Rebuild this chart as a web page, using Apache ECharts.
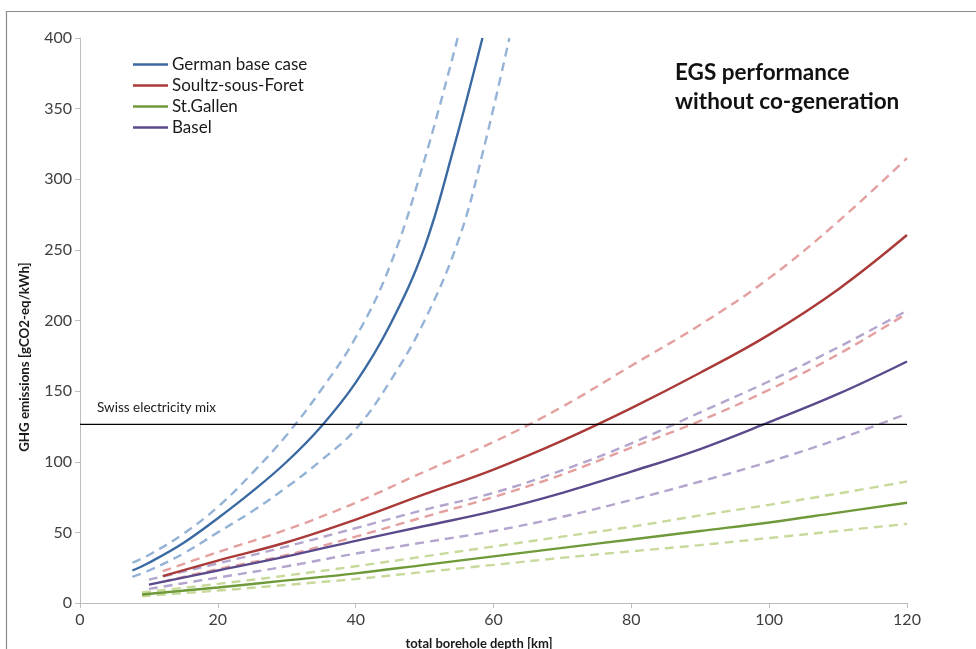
<!DOCTYPE html>
<html>
<head>
<meta charset="utf-8">
<title>EGS performance without co-generation</title>
<script src="https://cdn.jsdelivr.net/npm/echarts@6/dist/echarts.min.js"></script>
<style>
  html, body { margin: 0; padding: 0; background: #ffffff; }
  #chart { width: 976px; height: 649px; }
</style>
</head>
<body>
<div id="chart"></div>
<script>
// Axis ticks
const xTicks = [0, 20, 40, 60, 80, 100, 120];
const yTicks = [0, 50, 100, 150, 200, 250, 300, 350, 400];

// Reference level: Swiss electricity mix [gCO2-eq/kWh]
const swissMix = 126.5;

// German base case: depth [km] and emissions (central, upper, lower)
const germanX   = [7.6, 10, 15, 20, 25, 30, 35, 40, 45, 50, 54, 58.4];
const germanMid = [23, 28.5, 42.5, 60, 79, 100, 125, 156, 197, 252, 318, 400];
const germanHiX = [7.6, 10, 15, 20, 25, 30, 35, 40, 45, 50, 54.8];
const germanHi  = [28.5, 34, 49, 68, 92, 119, 151, 188, 239, 314, 400];
const germanLoX = [7.6, 10, 15, 20, 25, 30, 35, 40, 45, 50, 55, 58.5, 62.3];
const germanLo  = [18.5, 23, 35, 50, 65, 82, 101, 123, 157, 200, 258, 320, 400];

// Soultz-sous-Foret
const soultzX   = [12, 20, 30, 40, 50, 60, 70, 80, 90, 100, 110, 120];
const soultzMid = [19, 30, 43, 59, 77, 94.5, 115, 138, 163, 190, 222, 260.5];
const soultzHi  = [22.5, 36, 52, 71, 93, 114, 139, 168, 197, 230, 270, 315];
const soultzLo  = [15, 24, 34, 47, 61, 75, 91, 110, 129, 151, 176, 205];

// St.Gallen
const gallenX   = [9, 20, 30, 40, 50, 60, 70, 80, 90, 100, 110, 120];
const gallenMid = [6, 11, 16, 21, 27, 33, 39, 45, 51, 57, 64, 71];
const gallenHi  = [7.5, 13.5, 19.5, 26, 33, 40, 47, 54, 62, 69.5, 77.5, 86];
const gallenLo  = [4.8, 8.8, 12.8, 17, 22, 27, 32, 36.6, 41, 46, 51, 56];

// Basel
const baselX   = [10, 20, 30, 40, 50, 60, 70, 80, 90, 100, 110, 120];
const baselMid = [13, 23, 33, 44, 54.5, 65, 78, 93, 109, 128, 148, 171];
const baselHi  = [16.5, 28, 40, 53, 66, 78, 94, 113, 135, 157, 181, 207];
const baselLo  = [10, 18, 26, 35, 43, 51, 61, 73, 86, 100, 116, 134];

const FONT = 'Lato, "Open Sans", sans-serif';

function pairs(xs, ys) {
  return xs.map((x, i) => [x, ys[i]]);
}

function solid(name, xs, ys, color) {
  return {
    name: name, type: 'line', data: pairs(xs, ys),
    smooth: 0.4, symbol: 'none', color: color,
    lineStyle: { color: color, width: 2.4 },
    z: 3
  };
}

function dashed(name, xs, ys, color) {
  return {
    name: name, type: 'line', data: pairs(xs, ys),
    smooth: 0.4, symbol: 'none', color: color,
    lineStyle: { color: color, width: 2.4, type: [9, 6] },
    z: 2
  };
}

const chart = echarts.init(document.getElementById('chart'), null, { renderer: 'canvas' });

const option = {
  backgroundColor: '#ffffff',
  animation: false,
  grid: { left: 80, right: 69, top: 38, bottom: 46, containLabel: false },
  xAxis: {
    type: 'value', min: xTicks[0], max: xTicks[xTicks.length - 1], interval: 20,
    axisLine: { show: true, lineStyle: { color: '#bdbdbd', width: 1 } },
    axisTick: { show: true, length: 5, lineStyle: { color: '#bdbdbd' } },
    axisLabel: { color: '#404040', fontFamily: FONT, fontSize: 16, margin: 9 },
    splitLine: { show: false }
  },
  yAxis: {
    type: 'value', min: yTicks[0], max: yTicks[yTicks.length - 1], interval: 50,
    axisLine: { show: true, lineStyle: { color: '#bdbdbd', width: 1 } },
    axisTick: { show: true, length: 5, lineStyle: { color: '#bdbdbd' } },
    axisLabel: { color: '#404040', fontFamily: FONT, fontSize: 16, margin: 8 },
    splitLine: { show: false }
  },
  legend: {
    left: 133, top: 54, orient: 'vertical', padding: 0,
    icon: 'rect', itemWidth: 35, itemHeight: 2.5, itemGap: 0,
    textStyle: { color: '#1a1a1a', fontFamily: FONT, fontSize: 17, lineHeight: 21, padding: [0, 0, 0, -1] },
    data: ['German base case', 'Soultz-sous-Foret', 'St.Gallen', 'Basel']
  },
  series: [
    dashed('German base case (upper)', germanHiX, germanHi, '#95b3d7'),
    dashed('German base case (lower)', germanLoX, germanLo, '#95b3d7'),
    solid('German base case', germanX, germanMid, '#3b6aa3'),

    dashed('Soultz-sous-Foret (upper)', soultzX, soultzHi, '#e3a09f'),
    dashed('Soultz-sous-Foret (lower)', soultzX, soultzLo, '#e3a09f'),
    solid('Soultz-sous-Foret', soultzX, soultzMid, '#a93a38'),

    dashed('St.Gallen (upper)', gallenX, gallenHi, '#c7da9c'),
    dashed('St.Gallen (lower)', gallenX, gallenLo, '#c7da9c'),
    solid('St.Gallen', gallenX, gallenMid, '#6f9a3a'),

    dashed('Basel (upper)', baselX, baselHi, '#b3a5cd'),
    dashed('Basel (lower)', baselX, baselLo, '#b3a5cd'),
    solid('Basel', baselX, baselMid, '#5a4a8c'),

    {
      name: 'Swiss electricity mix', type: 'line', silent: true,
      data: [[xTicks[0], swissMix], [xTicks[xTicks.length - 1], swissMix]],
      symbol: 'none', color: '#000000',
      lineStyle: { color: '#000000', width: 1.3 }, z: 4
    }
  ],
  graphic: [
    {
      type: 'rect', silent: true, z: -1,
      shape: { x: 6.5, y: 11.5, width: 1100, height: 800 },
      style: { fill: null, stroke: '#8c8c8c', lineWidth: 1.2 }
    },
    {
      type: 'text', left: 675, top: 58,
      style: {
        text: 'EGS performance\nwithout co-generation',
        font: 'bold 22.5px ' + FONT, fill: '#111111', lineHeight: 29
      }
    },
    {
      type: 'text', left: 97, top: 401,
      style: { text: 'Swiss electricity mix', font: '13.5px ' + FONT, fill: '#1a1a1a' }
    },
    {
      type: 'text', x: 25, y: 357, rotation: Math.PI / 2,
      style: {
        text: 'GHG emissions [gCO2-eq/kWh]', font: 'bold 13.3px ' + FONT,
        fill: '#1a1a1a', align: 'center', verticalAlign: 'middle'
      }
    },
    {
      type: 'text', x: 479, y: 644,
      style: {
        text: 'total borehole depth [km]', font: 'bold 13px ' + FONT,
        fill: '#1a1a1a', align: 'center', verticalAlign: 'middle'
      }
    }
  ]
};

chart.setOption(option);
</script>
</body>
</html>
